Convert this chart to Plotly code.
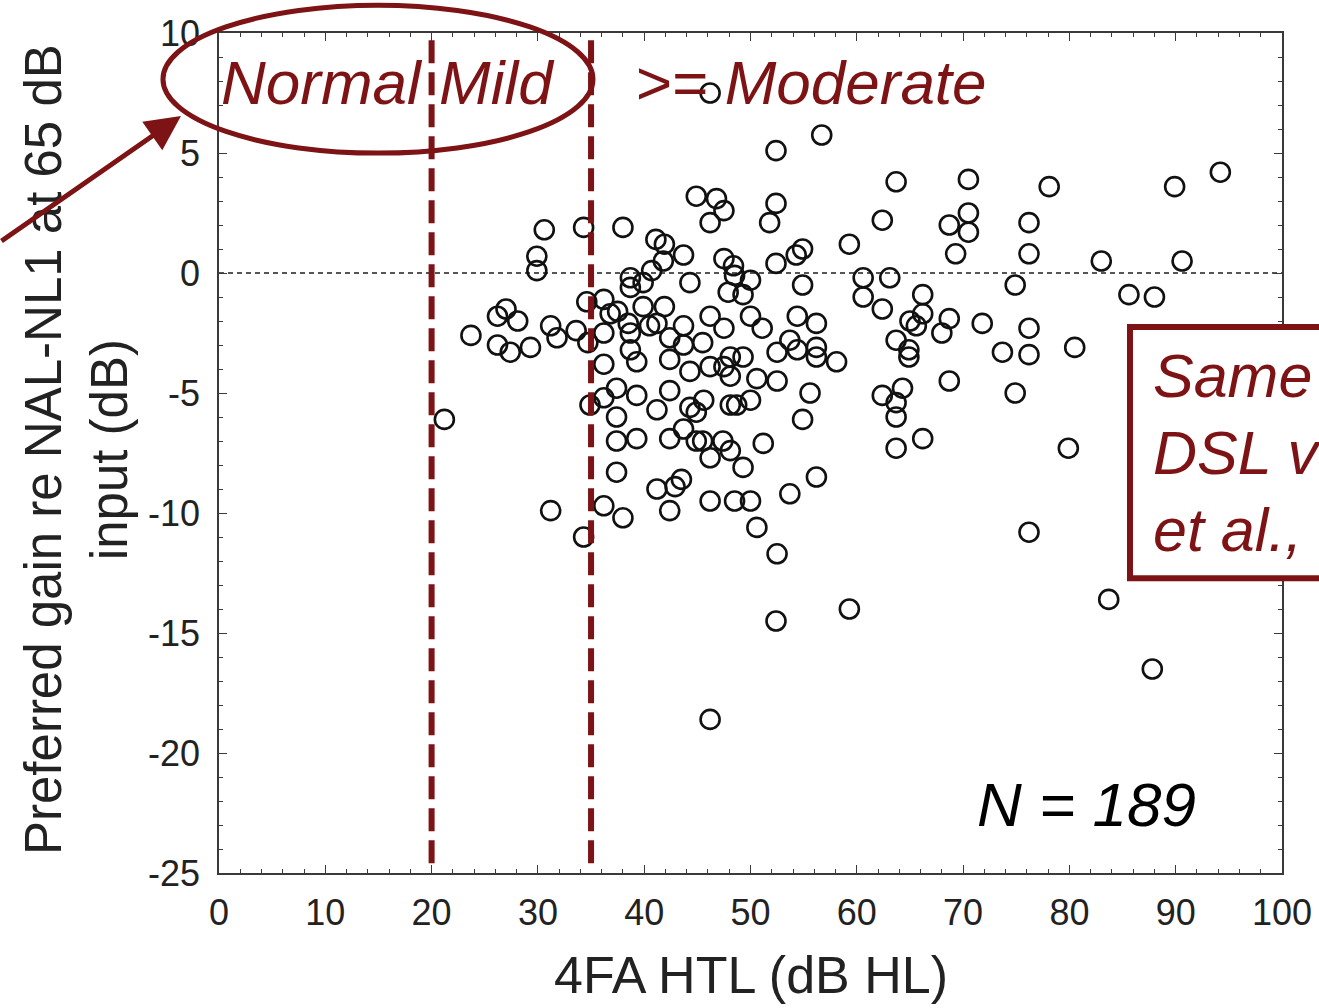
import plotly.graph_objects as go

# 4FA HTL (dB HL) and preferred gain re NAL-NL1 (dB)
htl = [30.6, 34.3, 29.9, 29.9, 27.0, 26.2, 28.1, 23.7, 26.2, 27.4,
       29.3, 31.2, 31.8, 33.6, 34.6, 36.2, 36.8, 36.2, 34.7, 36.2,
       21.2, 34.9, 36.2, 37.4, 37.4, 37.4, 37.4, 31.2, 36.2, 38.0,
       34.3, 38.0, 44.9, 46.8, 47.5, 46.2, 52.4, 51.8, 41.1, 41.9,
       43.7, 41.8, 40.7, 38.7, 39.9, 38.7, 44.3, 47.5, 48.4, 48.5,
       50.0, 47.9, 49.3, 52.4, 54.3, 54.9, 54.9, 59.3, 39.9, 41.9,
       38.7, 41.2, 42.4, 43.7, 43.7, 45.5, 46.2, 47.5, 50.0, 51.1,
       54.4, 56.2, 53.7, 54.4, 56.2, 56.2, 58.1, 52.5, 48.1, 49.3,
       42.4, 39.3, 38.7, 40.5, 44.3, 46.2, 48.1, 50.6, 52.5, 39.3,
       42.4, 41.2, 44.3, 44.9, 45.6, 48.1, 48.7, 50.0, 55.6, 54.9,
       39.3, 42.4, 43.7, 44.9, 46.2, 47.4, 48.1, 49.3, 51.2, 41.2,
       43.5, 42.9, 42.4, 46.2, 48.5, 50.0, 53.7, 56.2, 50.6, 52.5,
       52.4, 46.2, 59.3, 56.7, 52.4, 46.2, 63.7, 70.5, 78.1, 89.9,
       94.2, 62.4, 68.7, 70.5, 70.5, 76.2, 69.3, 76.2, 83.0, 90.6,
       60.6, 63.1, 60.6, 74.9, 85.6, 88.0, 66.2, 62.4, 66.2, 65.0,
       65.6, 68.7, 71.8, 76.2, 63.7, 64.9, 64.9, 68.0, 73.7, 76.2,
       80.5, 68.7, 74.9, 62.4, 64.3, 63.7, 63.7, 66.2, 63.7, 79.9,
       76.2, 83.7, 87.8, 38.5, 47.5, 45.5, 37.5]

gain = [1.8, 1.9, 0.7, 0.1, -1.5, -1.8, -2.0, -2.6, -3.0, -3.3,
        -3.1, -2.2, -2.7, -2.4, -1.2, -1.1, -1.7, -2.5, -2.9, -3.8,
        -6.1, -5.5, -5.2, -4.8, -6.0, -7.0, -8.3, -9.9, -9.7, -10.2,
        -11.0, 1.9, 3.2, 3.1, 2.6, 2.1, 2.9, 2.1, 1.4, 1.2,
        0.75, 0.5, 0.1, -0.2, -0.4, -0.6, -0.4, 0.6, 0.3, -0.1,
        -0.3, -0.8, -0.9, 0.4, 0.75, 1.0, -0.5, 1.2, -1.4, -1.4,
        -2.5, -2.1, -2.7, -2.2, -3.0, -2.9, -1.8, -2.3, -1.8, -2.3,
        -1.8, -2.1, -2.8, -3.2, -3.1, -3.5, -3.7, -3.3, -3.5, -3.5,
        -3.6, -3.7, -3.2, -2.2, -4.1, -3.9, -4.3, -4.4, -4.5, -5.1,
        -4.9, -5.7, -5.6, -5.8, -5.3, -5.5, -5.5, -5.3, -5.0, -6.1,
        -6.9, -6.9, -6.5, -7.0, -7.7, -7.0, -7.4, -8.1, -7.1, -9.0,
        -8.6, -8.9, -9.9, -9.5, -9.5, -9.5, -9.2, -8.5, -10.6, -11.7,
        -14.5, -18.6, -14.0, 5.75, 5.1, 7.5, 3.8, 3.9, 3.6, 3.6,
        4.2, 2.2, 2.0, 2.5, 1.7, 2.1, 0.8, 0.8, 0.5, 0.5,
        -0.2, -0.2, -1.0, -0.5, -0.9, -1.0, -0.9, -1.5, -1.7, -2.0,
        -2.2, -1.9, -2.1, -2.3, -2.8, -3.2, -3.5, -2.5, -3.3, -3.4,
        -3.1, -4.5, -5.0, -5.1, -4.8, -5.4, -6.0, -6.9, -7.3, -7.3,
        -10.8, -13.6, -16.5, -2.1, -3.9, -7.0, -1.6]

x_tick_vals = [0, 10, 20, 30, 40, 50, 60, 70, 80, 90, 100]
x_tick_text = ["0", "10", "20", "30", "40", "50", "60", "70", "80", "90", "100"]
y_tick_vals = [-25, -20, -15, -10, -5, 0, 5, 10]
y_tick_text = ["-25", "-20", "-15", "-10", "-5", "0", "5", "10"]

category_bounds = [20, 35]
category_labels = ["Normal", "Mild", ">= Moderate"]
n_label = "N = 189"
box_lines = ["Same", "DSL v", "et al.,"]

RED = "#7d1315"
FONT = "Arial, Liberation Sans, Helvetica, sans-serif"

fig = go.Figure()
fig.add_trace(go.Scatter(
    x=htl, y=gain, mode="markers",
    marker=dict(symbol="circle-open", size=19, color="#111111",
                line=dict(width=2.6, color="#111111")),
    showlegend=False, hoverinfo="x+y"))

axis_common = dict(showline=True, linecolor="#3a3a3a", linewidth=1.5,
                   mirror="ticks", ticks="inside", ticklen=8, tickwidth=1.2,
                   tickcolor="#3a3a3a", showgrid=False, zeroline=False,
                   tickfont=dict(family=FONT, size=36, color="#222222"))

fig.update_xaxes(range=[0, 100], tickvals=x_tick_vals, ticktext=x_tick_text,
                 ticklabelstandoff=7,
                 minor=dict(dtick=2, ticks="inside", ticklen=4, tickcolor="#3a3a3a"),
                 **axis_common)
fig.update_yaxes(range=[-25, 10], tickvals=y_tick_vals, ticktext=y_tick_text,
                 ticklabelstandoff=10,
                 minor=dict(dtick=1, ticks="inside", ticklen=4, tickcolor="#3a3a3a"),
                 **axis_common)

shapes = []
# zero reference line
shapes.append(dict(type="line", xref="x", yref="y", x0=0, x1=100, y0=0, y1=0,
                   line=dict(color="#555555", width=2, dash="5px,4px"), layer="below"))
# category boundaries
for b in category_bounds:
    shapes.append(dict(type="line", xref="x", yref="y", x0=b, x1=b, y0=9.7, y1=-24.7,
                       line=dict(color=RED, width=6, dash="23px,9px"), layer="above"))
# ellipse around Normal / Mild
shapes.append(dict(type="circle", xref="paper", yref="paper",
                   x0=-0.0527, x1=0.3518, y0=0.857, y1=1.033,
                   line=dict(color=RED, width=5), layer="above"))
# box on the right (cut off by the page edge)
shapes.append(dict(type="rect", xref="paper", yref="paper",
                   x0=0.857, x1=1.2, y0=0.351, y1=0.650,
                   line=dict(color=RED, width=6), fillcolor="white", layer="above"))

annotations = []
# y title
annotations.append(dict(text="Preferred gain re NAL-NL1 at 65 dB<br>input (dB)",
                        xref="paper", yref="paper", x=0, y=0.5, xanchor="center",
                        yanchor="middle", xshift=-143, yshift=3, textangle=-90,
                        showarrow=False, align="center",
                        font=dict(family=FONT, size=51, color="#222222")))
# x title
annotations.append(dict(text="4FA HTL (dB HL)", xref="paper", yref="paper",
                        x=0.5, y=0, xanchor="center", yanchor="middle", yshift=-102,
                        showarrow=False,
                        font=dict(family=FONT, size=52, color="#222222")))
# category labels
for txt, px in zip(category_labels, [0.0, 0.205, 0.389]):
    annotations.append(dict(text="<i>%s</i>" % txt, xref="paper", yref="paper",
                            x=px, y=(873 - 82) / 840, xanchor="left", yanchor="middle",
                            showarrow=False,
                            font=dict(family=FONT, size=62, color=RED)))
# N label
annotations.append(dict(text="<i>%s</i>" % n_label, xref="paper", yref="paper",
                        x=0.711, y=0.081, xanchor="left", yanchor="middle",
                        showarrow=False,
                        font=dict(family=FONT, size=62, color="#000000")))
# box text
for i, line in enumerate(box_lines):
    annotations.append(dict(text="<i>%s</i>" % line, xref="paper", yref="paper",
                            x=0.877, y=(873 - (376 + 77 * i)) / 840,
                            xanchor="left", yanchor="middle", showarrow=False,
                            font=dict(family=FONT, size=61, color=RED)))
# arrow pointing at the ellipse
annotations.append(dict(text="", xref="paper", yref="paper",
                        x=(181 - 219) / 1063, y=(873 - 116) / 840,
                        ax=-195, ay=126, showarrow=True, arrowhead=2,
                        arrowsize=1.4, arrowwidth=5, arrowcolor=RED))

fig.update_layout(width=1319, height=1008,
                  margin=dict(l=219, r=37, t=33, b=135, autoexpand=False),
                  paper_bgcolor="white", plot_bgcolor="white",
                  shapes=shapes, annotations=annotations,
                  font=dict(family=FONT))

fig.write_html("out.html")
